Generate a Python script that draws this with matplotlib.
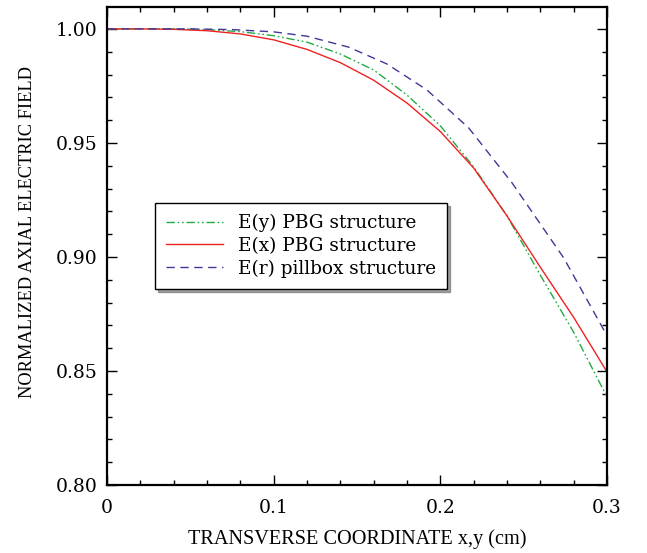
import matplotlib
matplotlib.use('Agg')
import matplotlib.pyplot as plt
from matplotlib.ticker import MultipleLocator, FormatStrFormatter

# x positions (cm) and normalized axial field values
x_pbg = [0.0, 0.02, 0.04, 0.06, 0.08, 0.10, 0.12, 0.14, 0.16,
         0.18, 0.20, 0.22, 0.24, 0.26, 0.28, 0.30]
ey_pbg = [1.0, 1.0, 1.0, 0.9997, 0.9988, 0.997, 0.9942, 0.989, 0.982,
          0.971, 0.9575, 0.9395, 0.918, 0.892, 0.867, 0.8386]
ex_pbg = [1.0, 1.0, 0.9998, 0.9992, 0.9978, 0.9952, 0.991, 0.9852, 0.9775,
          0.9675, 0.955, 0.939, 0.918, 0.8955, 0.8735, 0.8496]

x_pill = [0.0, 0.025, 0.05, 0.075, 0.10, 0.12, 0.145, 0.168, 0.192,
          0.217, 0.243, 0.274, 0.30]
er_pill = [1.0, 1.0, 1.0, 0.9997, 0.9987, 0.9968, 0.992, 0.9846, 0.9732,
           0.9566, 0.9325, 0.8996, 0.8655]

labels = ['E(y) PBG structure', 'E(x) PBG structure', 'E(r) pillbox structure']

fig = plt.figure(figsize=(6.47, 5.53), dpi=100)
ax = fig.add_axes([107 / 647, 1 - 485 / 553, 500 / 647, 478 / 553])

ax.plot(x_pbg, ey_pbg, color='#22aa44', lw=1.0,
        linestyle=(0, (6, 2, 1.2, 2, 1.2, 2)), label=labels[0])
ax.plot(x_pbg, ex_pbg, color='#ee2222', lw=1.0, label=labels[1])
ax.plot(x_pill, er_pill, color='#433797', lw=1.0,
        linestyle=(0, (6, 4)), label=labels[2])

ax.set_xlim(0, 0.3)
ax.set_ylim(0.80, 1.0096)
ax.xaxis.set_major_locator(MultipleLocator(0.1))
ax.xaxis.set_minor_locator(MultipleLocator(0.02))
ax.yaxis.set_major_locator(MultipleLocator(0.05))
ax.yaxis.set_minor_locator(MultipleLocator(0.01))
ax.yaxis.set_major_formatter(FormatStrFormatter('%.2f'))
ax.set_xticks([0, 0.1, 0.2, 0.3])
ax.set_xticklabels(['0', '0.1', '0.2', '0.3'])

ax.tick_params(which='both', direction='in', top=True, right=True,
               labelsize=13.5, width=1.0)
ax.tick_params(which='major', length=7)
ax.tick_params(axis='x', which='major', pad=10)
ax.tick_params(axis='y', which='major', pad=7)
ax.tick_params(which='minor', length=3.5)
for t in ax.get_xticklabels() + ax.get_yticklabels():
    t.set_family('DejaVu Serif')
for s in ax.spines.values():
    s.set_linewidth(1.6)

ax.set_xlabel('TRANSVERSE COORDINATE x,y (cm)', family='Liberation Serif',
              fontsize=14.6)
ax.set_ylabel('NORMALIZED AXIAL ELECTRIC FIELD', family='Liberation Serif',
              fontsize=13.2)
ax.xaxis.set_label_coords(0.5, -0.092)
ax.yaxis.set_label_coords(-0.142, 0.529)

leg = ax.legend(loc='upper left', bbox_to_anchor=(48 / 500, 1 - 196 / 478),
                prop={'family': 'DejaVu Serif', 'size': 13.3},
                frameon=True, fancybox=False, shadow=True,
                handlelength=3.1, handletextpad=0.8, borderpad=0.6,
                borderaxespad=0, labelspacing=0.25)
leg.get_frame().set_edgecolor('black')
leg.get_frame().set_linewidth(1.0)

fig.savefig('out.png', dpi=100)
